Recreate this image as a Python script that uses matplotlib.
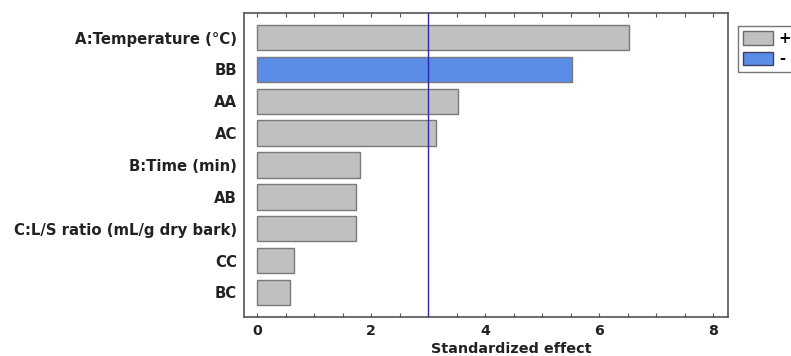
import matplotlib
matplotlib.use("Agg")
import matplotlib.pyplot as plt
from matplotlib.patches import Patch
from matplotlib.ticker import MultipleLocator

# ===============================
# DATA
# ===============================
terms = ["A:Temperature (°C)", "BB", "AA", "AC", "B:Time (min)", "AB",
         "C:L/S ratio (mL/g dry bark)", "CC", "BC"]
effects = [6.53, 5.52, 3.52, 3.13, 1.80, 1.73, 1.73, 0.65, 0.58]
signs = ["+", "-", "+", "+", "+", "+", "+", "+", "+"]
threshold = 2.99

GRAY = "#c0c0c0"
BLUE = "#5b8ce6"
sign_colors = {"+": GRAY, "-": BLUE}

plt.rcParams["font.family"] = ["DejaVu Sans"]
plt.rcParams["font.weight"] = "bold"
FS = 10.7

# ===============================
# PLOT
# ===============================
fig = plt.figure(figsize=(7.91, 3.56), dpi=100)
ax = fig.add_axes([244 / 791, 1 - 317 / 356, (728 - 244) / 791, (317 - 13) / 356])

ypos = list(range(len(terms)))
ax.barh(ypos, effects, height=0.8, color=[sign_colors[s] for s in signs],
        edgecolor="#7a7a7a", linewidth=1.0, zorder=2)
ax.axvline(threshold, color="#2a2aa8", linewidth=1.0, zorder=3)

ax.set_yticks(ypos)
ax.set_yticklabels(terms, fontsize=FS, fontweight="bold", color="#222222")
ax.set_ylim(len(terms) - 0.23, -0.77)
ax.set_xlim(-0.23, 8.26)

ax.xaxis.set_major_locator(MultipleLocator(2))
ax.xaxis.set_minor_locator(MultipleLocator(0.5))
ax.tick_params(axis="x", which="both", direction="in", top=True, bottom=True,
               length=3, width=0.8, color="#555555", labelsize=FS - 0.5, pad=5,
               labelcolor="#222222")
ax.tick_params(axis="y", length=0, pad=5)
for lab in ax.get_xticklabels():
    lab.set_fontweight("bold")

for sp in ax.spines.values():
    sp.set_color("#555555")
    sp.set_linewidth(1.2)

ax.set_xlabel("Standardized effect", fontsize=FS - 0.3, fontweight="bold", color="#222222")
ax.xaxis.set_label_coords(0.552, -0.082)

handles = [Patch(facecolor=GRAY, edgecolor="#6a6a6a", label="+"),
           Patch(facecolor=BLUE, edgecolor="#404060", label="-")]
fig.legend(handles=handles, loc="upper left", bbox_to_anchor=(738 / 791, 1 - 26 / 356),
           frameon=True, fancybox=False, edgecolor="#555555", fontsize=FS,
           handlelength=2.0, handleheight=1.0, borderpad=0.35, labelspacing=0.35,
           handletextpad=0.4, borderaxespad=0)

fig.savefig("out.png", dpi=100)
